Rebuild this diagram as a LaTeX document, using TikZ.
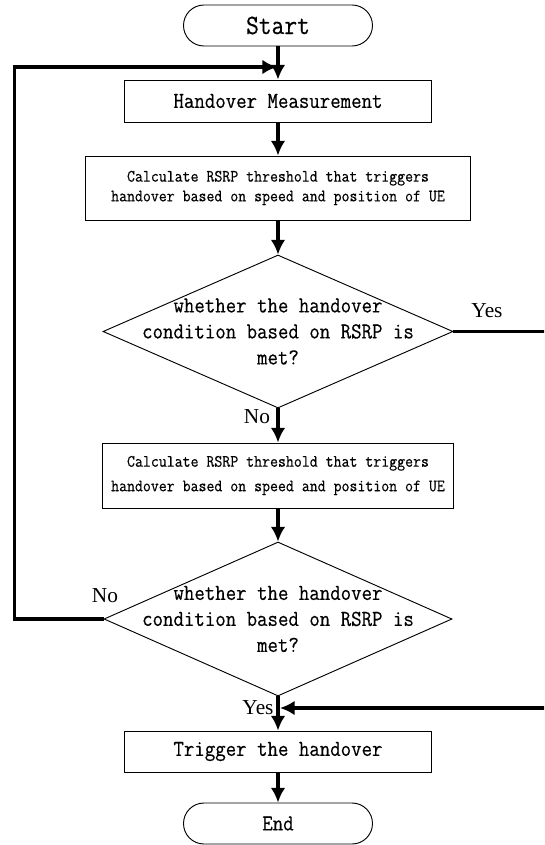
\documentclass[tikz,border=0pt]{standalone}
\usepackage{fontspec}
\setmainfont{Liberation Serif}
\newfontfamily\simfont[FakeStretch=0.89,FakeBold=0.4]{Latin Modern Mono}
\usetikzlibrary{arrows.meta,shapes.geometric,shapes.misc}

\begin{document}
\begin{tikzpicture}[x=0.75pt,y=-0.75pt,
  box/.style={draw,line width=0.7pt,inner sep=0pt,align=center,
    font={\simfont\fontsize{17.1}{19.5}\selectfont}},
  small/.style={font={\simfont\fontsize{13}{#1}\selectfont}},
  term/.style={box,rounded rectangle,minimum width=141.75pt,minimum height=30.75pt},
  decision/.style={draw,line width=0.7pt,diamond,inner sep=0pt},
  dtext/.style={inner sep=0pt,align=center,font={\simfont\fontsize{17.1}{19.5}\selectfont}},
  flow/.style={line width=2.4pt,-{Latex[length=11pt,width=11pt]}},
  lab/.style={inner sep=0pt,font={\fontsize{16}{16}\selectfont}}]
\clip (0,0) rectangle (544,845);
% boxes of the flow
\node[term,font={\simfont\fontsize{20.9}{20.9}\selectfont}] (start) at (278,25.5) {Start};
\node[box,minimum width=230.25pt,minimum height=31.5pt] (meas) at (278,101) {Handover Measurement};
\node[box,small=14.8,minimum width=288.75pt,minimum height=48pt] (calcA) at (278,188)
  {Calculate RSRP threshold that triggers\\handover based on speed and position of UE};
\node[decision,minimum width=262.5pt,minimum height=114.75pt] (decA) at (278,331.5) {};
\node[dtext] (decAtxt) at (decA) {whether the handover\\condition based on RSRP is\\met?};
\node[box,small=18.4,minimum width=263.25pt,minimum height=48.75pt] (calcB) at (278,475.5)
  {Calculate RSRP threshold that triggers\\handover based on speed and position of UE};
\node[decision,minimum width=261pt,minimum height=115.5pt] (decB) at (278,619) {};
\node[dtext] (decBtxt) at (decB) {whether the handover\\condition based on RSRP is\\met?};
\node[box,minimum width=230.25pt,minimum height=30.75pt] (trig) at (278,751.5) {Trigger the handover};
\node[term,minimum width=141.75pt] (stop) at (278,823.5) {End};
% straight arrows
\foreach \a/\b in {start/meas,meas/calcA,calcA/decA,decA/calcB,calcB/decB,decB/trig,trig/stop}
\draw[flow] (\a.south) -- (\b.north);
% loop back and yes branch
\coordinate (loopL) at (14.5,619);
\coordinate (loopin) at (277,67);
\draw[flow] (decB.west) -- (loopL) |- (loopin);
\coordinate (yesR) at (548,331.5);
\coordinate (yesin) at (280,708);
\draw[flow] (decA.east) -- (yesR) |- (yesin);
% labels
\node[lab] (yesA) at (487,311) {Yes};
\node[lab] (noA) at (257,417) {No};
\node[lab] (noB) at (105,596) {No};
\node[lab] (yesB) at (258,708) {Yes};
\end{tikzpicture}
\end{document}
